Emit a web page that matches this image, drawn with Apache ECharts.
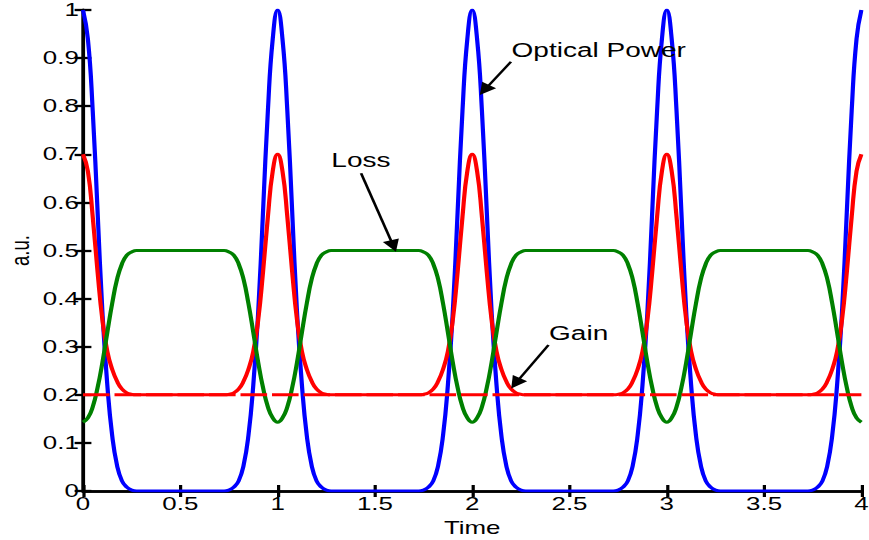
<!DOCTYPE html>
<html>
<head>
<meta charset="utf-8">
<script src="https://cdn.jsdelivr.net/npm/echarts@6/dist/echarts.min.js"></script>
<style>
  html, body { margin: 0; padding: 0; background: #ffffff; overflow: hidden; }
  /* the figure is drawn narrow and widened, giving its wide lettering */
  #chart { width: 620.714px; height: 540px; transform: scaleX(1.4); transform-origin: 0 0; }
</style>
</head>
<body>
<div id="chart"></div>
<script>
// sample times
const time = [
  0, 0.025, 0.05, 0.075, 0.1, 0.125, 0.15, 0.175, 0.2, 0.225, 0.25, 0.275, 0.3, 0.325, 0.35, 0.375, 0.4, 0.425, 0.45, 0.475,
  0.5, 0.525, 0.55, 0.575, 0.6, 0.625, 0.65, 0.675, 0.7, 0.725, 0.75, 0.775, 0.8, 0.825, 0.85, 0.875, 0.9, 0.925, 0.95, 0.975,
  1, 1.025, 1.05, 1.075, 1.1, 1.125, 1.15, 1.175, 1.2, 1.225, 1.25, 1.275, 1.3, 1.325, 1.35, 1.375, 1.4, 1.425, 1.45, 1.475,
  1.5, 1.525, 1.55, 1.575, 1.6, 1.625, 1.65, 1.675, 1.7, 1.725, 1.75, 1.775, 1.8, 1.825, 1.85, 1.875, 1.9, 1.925, 1.95, 1.975,
  2, 2.025, 2.05, 2.075, 2.1, 2.125, 2.15, 2.175, 2.2, 2.225, 2.25, 2.275, 2.3, 2.325, 2.35, 2.375, 2.4, 2.425, 2.45, 2.475,
  2.5, 2.525, 2.55, 2.575, 2.6, 2.625, 2.65, 2.675, 2.7, 2.725, 2.75, 2.775, 2.8, 2.825, 2.85, 2.875, 2.9, 2.925, 2.95, 2.975,
  3, 3.025, 3.05, 3.075, 3.1, 3.125, 3.15, 3.175, 3.2, 3.225, 3.25, 3.275, 3.3, 3.325, 3.35, 3.375, 3.4, 3.425, 3.45, 3.475,
  3.5, 3.525, 3.55, 3.575, 3.6, 3.625, 3.65, 3.675, 3.7, 3.725, 3.75, 3.775, 3.8, 3.825, 3.85, 3.875, 3.9, 3.925, 3.95, 3.975,
  4
];

// optical power pulses
const opticalPower = [
  1, 0.94, 0.79, 0.58, 0.37, 0.22, 0.115, 0.053, 0.021, 0.008, 0.002, 0, 0, 0, 0, 0, 0, 0, 0, 0,
  0, 0, 0, 0, 0, 0, 0, 0, 0, 0, 0.002, 0.008, 0.021, 0.053, 0.115, 0.22, 0.37, 0.58, 0.79, 0.94,
  1, 0.94, 0.79, 0.58, 0.37, 0.22, 0.115, 0.053, 0.021, 0.008, 0.002, 0, 0, 0, 0, 0, 0, 0, 0, 0,
  0, 0, 0, 0, 0, 0, 0, 0, 0, 0, 0.002, 0.008, 0.021, 0.053, 0.115, 0.22, 0.37, 0.58, 0.79, 0.94,
  1, 0.94, 0.79, 0.58, 0.37, 0.22, 0.115, 0.053, 0.021, 0.008, 0.002, 0, 0, 0, 0, 0, 0, 0, 0, 0,
  0, 0, 0, 0, 0, 0, 0, 0, 0, 0, 0.002, 0.008, 0.021, 0.053, 0.115, 0.22, 0.37, 0.58, 0.79, 0.94,
  1, 0.94, 0.79, 0.58, 0.37, 0.22, 0.115, 0.053, 0.021, 0.008, 0.002, 0, 0, 0, 0, 0, 0, 0, 0, 0,
  0, 0, 0, 0, 0, 0, 0, 0, 0, 0, 0.002, 0.008, 0.021, 0.053, 0.115, 0.22, 0.37, 0.58, 0.79, 0.94,
  1
];

// gain
const gain = [
  0.7, 0.665, 0.57, 0.455, 0.355, 0.29, 0.253, 0.228, 0.212, 0.204, 0.201, 0.2, 0.2, 0.2, 0.2, 0.2, 0.2, 0.2, 0.2, 0.2,
  0.2, 0.2, 0.2, 0.2, 0.2, 0.2, 0.2, 0.2, 0.2, 0.2, 0.201, 0.204, 0.212, 0.228, 0.253, 0.29, 0.355, 0.455, 0.57, 0.665,
  0.7, 0.665, 0.57, 0.455, 0.355, 0.29, 0.253, 0.228, 0.212, 0.204, 0.201, 0.2, 0.2, 0.2, 0.2, 0.2, 0.2, 0.2, 0.2, 0.2,
  0.2, 0.2, 0.2, 0.2, 0.2, 0.2, 0.2, 0.2, 0.2, 0.2, 0.201, 0.204, 0.212, 0.228, 0.253, 0.29, 0.355, 0.455, 0.57, 0.665,
  0.7, 0.665, 0.57, 0.455, 0.355, 0.29, 0.253, 0.228, 0.212, 0.204, 0.201, 0.2, 0.2, 0.2, 0.2, 0.2, 0.2, 0.2, 0.2, 0.2,
  0.2, 0.2, 0.2, 0.2, 0.2, 0.2, 0.2, 0.2, 0.2, 0.2, 0.201, 0.204, 0.212, 0.228, 0.253, 0.29, 0.355, 0.455, 0.57, 0.665,
  0.7, 0.665, 0.57, 0.455, 0.355, 0.29, 0.253, 0.228, 0.212, 0.204, 0.201, 0.2, 0.2, 0.2, 0.2, 0.2, 0.2, 0.2, 0.2, 0.2,
  0.2, 0.2, 0.2, 0.2, 0.2, 0.2, 0.2, 0.2, 0.2, 0.2, 0.201, 0.204, 0.212, 0.228, 0.253, 0.29, 0.355, 0.455, 0.57, 0.665,
  0.7
];

// loss
const loss = [
  0.143, 0.152, 0.175, 0.215, 0.268, 0.33, 0.39, 0.44, 0.472, 0.49, 0.497, 0.5, 0.5, 0.5, 0.5, 0.5, 0.5, 0.5, 0.5, 0.5,
  0.5, 0.5, 0.5, 0.5, 0.5, 0.5, 0.5, 0.5, 0.5, 0.5, 0.497, 0.49, 0.472, 0.44, 0.39, 0.33, 0.268, 0.215, 0.175, 0.152,
  0.143, 0.152, 0.175, 0.215, 0.268, 0.33, 0.39, 0.44, 0.472, 0.49, 0.497, 0.5, 0.5, 0.5, 0.5, 0.5, 0.5, 0.5, 0.5, 0.5,
  0.5, 0.5, 0.5, 0.5, 0.5, 0.5, 0.5, 0.5, 0.5, 0.5, 0.497, 0.49, 0.472, 0.44, 0.39, 0.33, 0.268, 0.215, 0.175, 0.152,
  0.143, 0.152, 0.175, 0.215, 0.268, 0.33, 0.39, 0.44, 0.472, 0.49, 0.497, 0.5, 0.5, 0.5, 0.5, 0.5, 0.5, 0.5, 0.5, 0.5,
  0.5, 0.5, 0.5, 0.5, 0.5, 0.5, 0.5, 0.5, 0.5, 0.5, 0.497, 0.49, 0.472, 0.44, 0.39, 0.33, 0.268, 0.215, 0.175, 0.152,
  0.143, 0.152, 0.175, 0.215, 0.268, 0.33, 0.39, 0.44, 0.472, 0.49, 0.497, 0.5, 0.5, 0.5, 0.5, 0.5, 0.5, 0.5, 0.5, 0.5,
  0.5, 0.5, 0.5, 0.5, 0.5, 0.5, 0.5, 0.5, 0.5, 0.5, 0.497, 0.49, 0.472, 0.44, 0.39, 0.33, 0.268, 0.215, 0.175, 0.152,
  0.143
];

// small-signal gain level (dashed)
const gainLevelTime = [0, 4];
const gainLevel = [0.2, 0.2];

const FONT = '"Liberation Sans", Arial, Helvetica, sans-serif';
const pairs = (xs, ys) => xs.map((x, i) => [x, ys[i]]);

const axisCommon = {
  type: 'value',
  nameMoveOverlap: false,
  axisLine: { show: true, lineStyle: { color: '#000', width: 2.5 } },
  axisTick: { show: true, inside: true, length: 6, lineStyle: { color: '#000', width: 2.3 } },
  splitLine: { show: false }
};

const arrow = (from, to) => ({
  silent: true,
  symbol: ['none', 'triangle'],
  symbolSize: 12,
  label: { show: false },
  itemStyle: { color: '#000' },
  lineStyle: { color: '#000', width: 2, type: 'solid' },
  emphasis: { disabled: true },
  data: [[{ coord: from }, { coord: to }]]
});

const note = (text, at) => ({
  silent: true,
  symbol: 'circle',
  symbolSize: 0,
  label: { show: true, position: 'inside', formatter: text, color: '#000', fontSize: 20, fontFamily: FONT },
  data: [{ coord: at }]
});

const chart = echarts.init(document.getElementById('chart'), null, { renderer: 'svg' });
chart.setOption({
  animation: false,
  backgroundColor: '#ffffff',
  grid: { left: 59.29, right: 5.71, top: 10, bottom: 49, containLabel: false, outerBoundsMode: 'none' },
  xAxis: [
    Object.assign({}, axisCommon, {
      min: 0, max: 4, interval: 0.5, position: 'bottom',
      axisLabel: { color: '#000', fontSize: 18.5, lineHeight: 15, fontFamily: FONT, margin: 5 },
      name: 'Time', nameLocation: 'middle', nameGap: 29,
      nameTextStyle: { color: '#000', fontSize: 18.5, lineHeight: 15, fontFamily: FONT }
    }),
    Object.assign({}, axisCommon, {
      min: 0, max: 4, interval: 0.5, position: 'top', axisLabel: { show: false }
    })
  ],
  yAxis: [
    Object.assign({}, axisCommon, {
      min: 0, max: 1, interval: 0.1, position: 'left',
      axisLabel: { color: '#000', fontSize: 18.5, fontFamily: FONT, margin: 3 },
      name: 'a.u.', nameLocation: 'middle', nameGap: 35,
      nameTextStyle: { color: '#000', fontSize: 18.5, fontFamily: FONT }
    }),
    Object.assign({}, axisCommon, {
      min: 0, max: 1, interval: 0.1, position: 'right', axisLabel: { show: false }
    })
  ],
  series: [
    {
      name: 'Optical Power', type: 'line', smooth: true, showSymbol: false,
      lineStyle: { color: '#0000ff', width: 3 }, itemStyle: { color: '#0000ff' },
      data: pairs(time, opticalPower),
      markLine: arrow([2.199, 0.8925], [2.063, 0.8337]),
      markPoint: note('Optical Power', [2.65, 0.9168])
    },
    {
      name: 'Gain', type: 'line', smooth: true, showSymbol: false,
      lineStyle: { color: '#ff0000', width: 3 }, itemStyle: { color: '#ff0000' },
      data: pairs(time, gain),
      markLine: arrow([2.392, 0.3035], [2.223, 0.2239]),
      markPoint: note('Gain', [2.547, 0.3285])
    },
    {
      name: 'Loss', type: 'line', smooth: true, showSymbol: false,
      lineStyle: { color: '#008000', width: 3 }, itemStyle: { color: '#008000' },
      data: pairs(time, loss),
      markLine: arrow([1.429, 0.6605], [1.595, 0.5094]),
      markPoint: note('Loss', [1.428, 0.6871])
    },
    {
      name: 'Gain level', type: 'line', showSymbol: false,
      lineStyle: { color: '#ff0000', width: 3, type: [19, 3.5] }, itemStyle: { color: '#ff0000' },
      data: pairs(gainLevelTime, gainLevel)
    }
  ]
});
</script>
</body>
</html>
